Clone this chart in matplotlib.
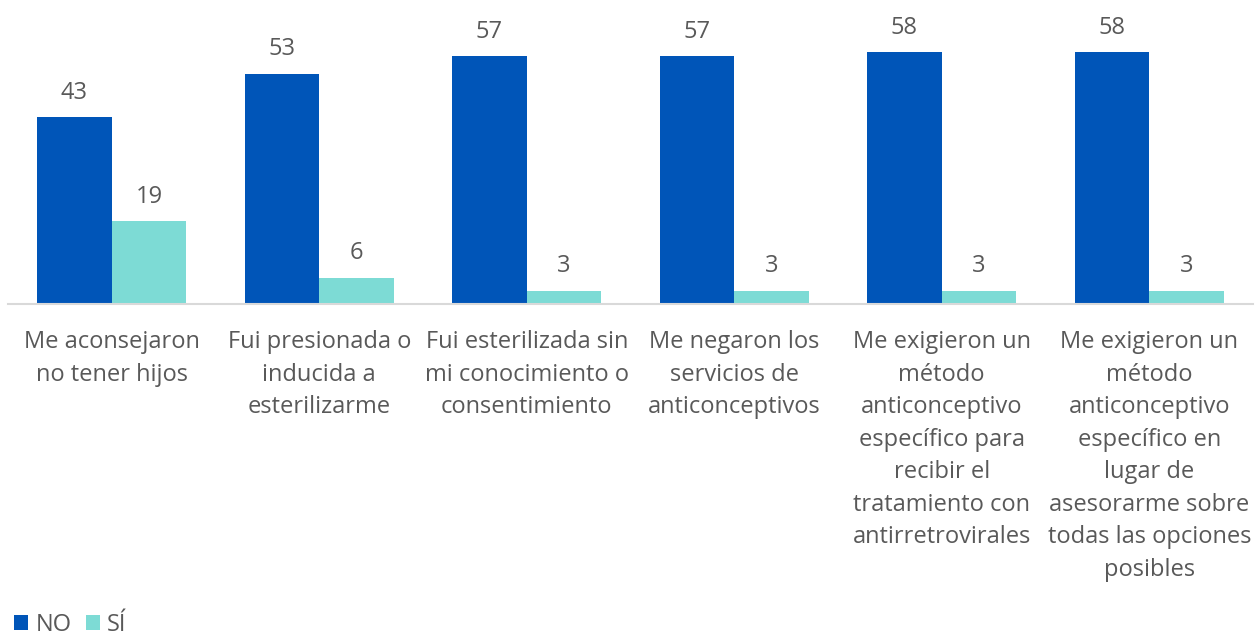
import numpy as np
import matplotlib.pyplot as plt

plt.rcParams['font.family'] = ['Open Sans', 'DejaVu Sans']

categories = [
    "Me aconsejaron\nno tener hijos",
    "Fui presionada o\ninducida a\nesterilizarme",
    "Fui esterilizada sin\nmi conocimiento o\nconsentimiento",
    "Me negaron los\nservicios de\nanticonceptivos",
    "Me exigieron un\nmétodo\nanticonceptivo\nespecífico para\nrecibir el\ntratamiento con\nantirretrovirales",
    "Me exigieron un\nmétodo\nanticonceptivo\nespecífico en\nlugar de\nasesorarme sobre\ntodas las opciones\nposibles",
]
no_vals = [43, 53, 57, 57, 58, 58]
si_vals = [19, 6, 3, 3, 3, 3]

c_no = '#0055B8'
c_si = '#7DDBD5'
txt = '#595959'

fig = plt.figure(figsize=(12.57, 6.35), dpi=100)
ax = fig.add_axes([8/1257, 1 - 304/635, 1245/1257, 304/635])

x = np.arange(len(categories))
w = 0.36
b1 = ax.bar(x - w/2, no_vals, w, color=c_no, label='NO')
b2 = ax.bar(x + w/2, si_vals, w, color=c_si, label='SÍ')

for bars, vals in ((b1, no_vals), (b2, si_vals)):
    for r, v in zip(bars, vals):
        ax.annotate(str(v), (r.get_x() + r.get_width()/2, v), xytext=(0, 9),
                    textcoords='offset points', ha='center', va='bottom',
                    fontsize=17, color=txt)

ax.set_xlim(-0.5, len(categories) - 0.5)
ax.set_ylim(0, 70)
ax.set_xticks(x)
ax.set_xticklabels(categories, fontsize=17, color=txt, linespacing=1.47)
ax.tick_params(axis='x', length=0, pad=19)
ax.set_yticks([])
for s in ('top', 'right', 'left'):
    ax.spines[s].set_visible(False)
ax.spines['bottom'].set_color('#d9d9d9')
ax.spines['bottom'].set_linewidth(1.5)

fig.legend(loc='lower left', bbox_to_anchor=(0.0, -0.025), ncol=2, frameon=False,
           fontsize=17, labelcolor=txt, handlelength=0.6, handleheight=0.6,
           handletextpad=0.3, columnspacing=0.6, borderaxespad=0.2)

fig.savefig('out.png', dpi=100)
